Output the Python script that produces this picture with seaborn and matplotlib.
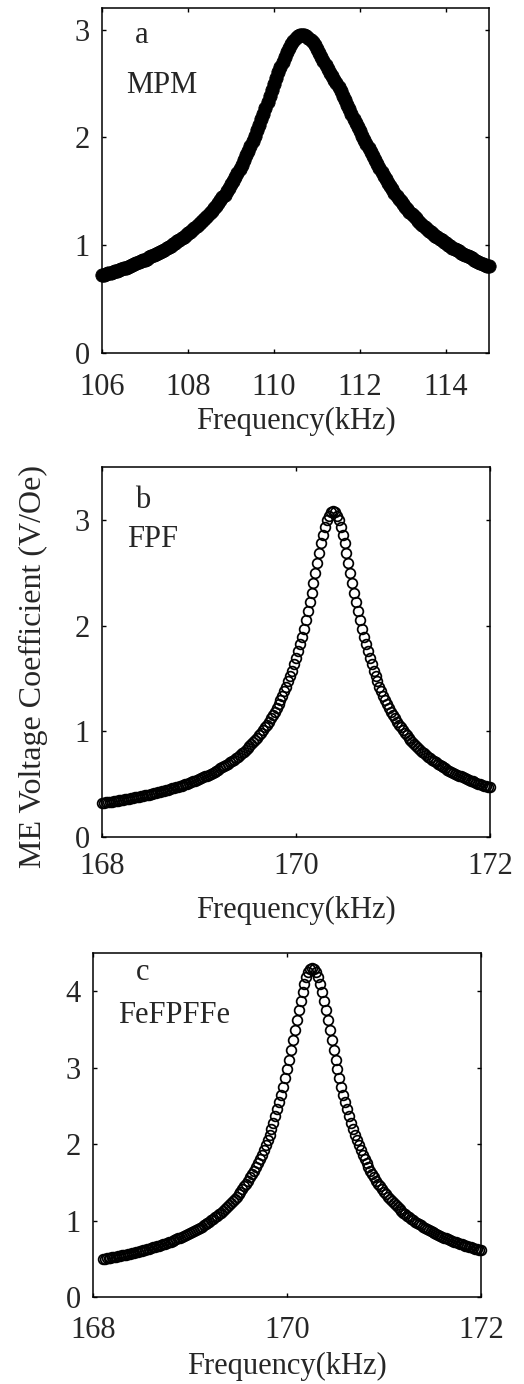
import numpy as np
import pandas as pd
import matplotlib
matplotlib.use("Agg")
import matplotlib.pyplot as plt
import seaborn as sns

# ---------------- data ----------------
# frequency sweeps (kHz): start, stop ; uniform sweep step
mpm_sweep = (106.0, 115.0)          # 0.05 kHz step
fpf_sweep = (168.0, 172.0)          # 0.02 kHz step
fefpffe_sweep = (168.1, 172.0)      # 0.02 kHz step

# ME voltage coefficient (V/Oe)
mpm_v = [
    0.720, 0.726, 0.732, 0.738, 0.745, 0.751, 0.758, 0.764, 0.771, 0.778,
    0.786, 0.793, 0.801, 0.808, 0.816, 0.824, 0.833, 0.841, 0.850, 0.858,
    0.867, 0.876, 0.886, 0.896, 0.906, 0.916, 0.927, 0.937, 0.949, 0.960,
    0.972, 0.984, 0.997, 1.009, 1.022, 1.035, 1.050, 1.064, 1.079, 1.093,
    1.109, 1.125, 1.142, 1.159, 1.177, 1.195, 1.214, 1.233, 1.254, 1.274,
    1.296, 1.318, 1.342, 1.365, 1.391, 1.416, 1.443, 1.470, 1.500, 1.529,
    1.563, 1.597, 1.634, 1.670, 1.709, 1.748, 1.790, 1.832, 1.877, 1.921,
    1.969, 2.016, 2.067, 2.117, 2.169, 2.221, 2.276, 2.330, 2.385, 2.440,
    2.495, 2.549, 2.602, 2.654, 2.703, 2.750, 2.792, 2.832, 2.866, 2.896,
    2.918, 2.936, 2.946, 2.950,
    2.947, 2.939, 2.925, 2.906, 2.882, 2.854, 2.822, 2.786, 2.747, 2.705,
    2.671, 2.636, 2.601, 2.567, 2.535, 2.502, 2.467, 2.431, 2.388, 2.345,
    2.302, 2.259, 2.217, 2.175, 2.134, 2.094, 2.055, 2.016, 1.978, 1.941,
    1.901, 1.861, 1.823, 1.786, 1.749, 1.713, 1.679, 1.645, 1.612, 1.579,
    1.548, 1.517, 1.487, 1.457, 1.431, 1.406, 1.382, 1.358, 1.335, 1.312,
    1.290, 1.269, 1.248, 1.228, 1.208, 1.189, 1.170, 1.152, 1.135, 1.119,
    1.103, 1.088, 1.073, 1.058, 1.044, 1.030, 1.017, 1.004, 0.991, 0.978,
    0.966, 0.954, 0.942, 0.931, 0.919, 0.908, 0.897, 0.887, 0.877, 0.867,
    0.857, 0.848, 0.838, 0.829, 0.820, 0.811, 0.803,
]

fpf_v = [
    0.322, 0.324, 0.327, 0.330, 0.333, 0.335, 0.338, 0.342, 0.345, 0.348,
    0.351, 0.354, 0.357, 0.361, 0.364, 0.367, 0.371, 0.375, 0.378, 0.382,
    0.386, 0.390, 0.394, 0.398, 0.402, 0.406, 0.410, 0.415, 0.419, 0.424,
    0.428, 0.433, 0.438, 0.443, 0.448, 0.453, 0.459, 0.464, 0.470, 0.476,
    0.481, 0.487, 0.493, 0.500, 0.506, 0.513, 0.520, 0.527, 0.534, 0.541,
    0.549, 0.557, 0.565, 0.573, 0.581, 0.590, 0.599, 0.608, 0.618, 0.628,
    0.638, 0.648, 0.659, 0.670, 0.682, 0.694, 0.706, 0.720, 0.733, 0.747,
    0.761, 0.776, 0.792, 0.808, 0.824, 0.842, 0.860, 0.879, 0.898, 0.919,
    0.940, 0.963, 0.986, 1.010, 1.036, 1.063, 1.091, 1.121, 1.152, 1.185,
    1.219, 1.256, 1.294, 1.335, 1.377, 1.423, 1.471, 1.522, 1.575, 1.632,
    1.693, 1.757, 1.825, 1.896, 1.972, 2.051, 2.135, 2.222, 2.312, 2.405,
    2.499, 2.594, 2.687, 2.777, 2.860, 2.933, 2.995, 3.041, 3.070,
    3.080,
    3.070, 3.041, 2.995, 2.933, 2.860, 2.777, 2.687, 2.594, 2.499, 2.405,
    2.312, 2.222, 2.135, 2.051, 1.972, 1.896, 1.825, 1.757, 1.693, 1.632,
    1.575, 1.522, 1.471, 1.423, 1.377, 1.335, 1.294, 1.256, 1.219, 1.185,
    1.152, 1.121, 1.091, 1.063, 1.036, 1.010, 0.986, 0.963, 0.940, 0.919,
    0.898, 0.879, 0.860, 0.842, 0.824, 0.808, 0.792, 0.776, 0.761, 0.747,
    0.733, 0.720, 0.706, 0.694, 0.682, 0.670, 0.659, 0.648, 0.638, 0.628,
    0.618, 0.608, 0.599, 0.590, 0.581, 0.573, 0.565, 0.557, 0.549, 0.541,
    0.534, 0.527, 0.520, 0.513, 0.506, 0.500, 0.493, 0.487, 0.481, 0.476,
    0.470,
]

fefpffe_v = [
    0.494, 0.499, 0.504, 0.508, 0.513, 0.518, 0.523, 0.528, 0.533, 0.539,
    0.544, 0.550, 0.555, 0.561, 0.567, 0.573, 0.579, 0.585, 0.592, 0.598,
    0.605, 0.611, 0.618, 0.626, 0.633, 0.640, 0.648, 0.656, 0.664, 0.672,
    0.680, 0.689, 0.698, 0.707, 0.716, 0.725, 0.735, 0.746, 0.756, 0.766,
    0.777, 0.789, 0.800, 0.811, 0.824, 0.836, 0.849, 0.863, 0.876, 0.891,
    0.905, 0.920, 0.936, 0.952, 0.969, 0.986, 1.005, 1.024, 1.043, 1.063,
    1.084, 1.105, 1.127, 1.151, 1.175, 1.200, 1.227, 1.254, 1.283, 1.312,
    1.344, 1.376, 1.410, 1.446, 1.484, 1.523, 1.564, 1.608, 1.654, 1.702,
    1.753, 1.806, 1.863, 1.923, 1.986, 2.053, 2.124, 2.199, 2.279, 2.363,
    2.453, 2.547, 2.647, 2.753, 2.864, 2.980, 3.102, 3.228, 3.358, 3.489,
    3.622, 3.752, 3.876, 3.993, 4.095, 4.181, 4.246, 4.286,
    4.300,
    4.286, 4.246, 4.181, 4.095, 3.993, 3.876, 3.752, 3.622, 3.489, 3.358,
    3.228, 3.102, 2.980, 2.864, 2.753, 2.647, 2.547, 2.453, 2.363, 2.279,
    2.199, 2.124, 2.053, 1.986, 1.923, 1.863, 1.806, 1.753, 1.702, 1.654,
    1.608, 1.564, 1.523, 1.484, 1.446, 1.410, 1.376, 1.344, 1.312, 1.283,
    1.254, 1.227, 1.200, 1.175, 1.151, 1.127, 1.105, 1.084, 1.063, 1.043,
    1.024, 1.005, 0.986, 0.969, 0.952, 0.936, 0.920, 0.905, 0.891, 0.876,
    0.863, 0.849, 0.836, 0.824, 0.811, 0.800, 0.789, 0.777, 0.766, 0.756,
    0.746, 0.735, 0.725, 0.716, 0.707, 0.698, 0.689, 0.680, 0.672, 0.664,
    0.656, 0.648, 0.640, 0.633, 0.626, 0.618, 0.611,
]

panel_letters = ["a", "b", "c"]
panel_names = ["MPM", "FPF", "FeFPFFe"]
xticks_a = [106, 108, 110, 112, 114]
xticks_bc = [168, 170, 172]
yticks_ab = [0, 1, 2, 3]
yticks_c = [0, 1, 2, 3, 4]
x_label = "Frequency(kHz)"
y_label = "ME Voltage Coefficient (V/Oe)"

# ---------------- style ----------------
sns.set_style("ticks", {"xtick.direction": "in", "ytick.direction": "in"})
plt.rcParams["font.family"] = ["Liberation Serif", "DejaVu Serif"]

W, H = 524, 1384
fig = plt.figure(figsize=(W / 100, H / 100), dpi=100)


def px_axes(left, right, top, bottom):
    return [left / W, 1 - bottom / H, (right - left) / W, (bottom - top) / H]


panels = [
    dict(sweep=mpm_sweep, v=mpm_v, rect=px_axes(102, 489, 8, 353),
         xlim=(106, 115), ylim=(0, 3.2), xticks=xticks_a, yticks=yticks_ab,
         filled=True, xpad=14.4, xlab_y=-0.1565,
         letter_pos=(0.085, 0.899), name_pos=(0.062, 0.754)),
    dict(sweep=fpf_sweep, v=fpf_v, rect=px_axes(102, 490, 467, 837),
         xlim=(168, 172), ylim=(0, 3.5), xticks=xticks_bc, yticks=yticks_ab,
         filled=False, xpad=11.0, xlab_y=-0.1586,
         letter_pos=(0.085, 0.889), name_pos=(0.064, 0.784)),
    dict(sweep=fefpffe_sweep, v=fefpffe_v, rect=px_axes(93, 481, 953, 1297),
         xlim=(168, 172), ylim=(0, 4.5), xticks=xticks_bc, yticks=yticks_c,
         filled=False, xpad=13.9, xlab_y=-0.160,
         letter_pos=(0.111, 0.922), name_pos=(0.064, 0.797)),
]

FS = 22
for i, p in enumerate(panels):
    ax = fig.add_axes(p["rect"])
    freq = np.linspace(p["sweep"][0], p["sweep"][1], len(p["v"]))
    df = pd.DataFrame({"freq": freq, "v": p["v"]})
    if p["filled"]:
        mk = dict(ms=9.6, mfc="black", mec="black", mew=0.6)
    else:
        mk = dict(ms=7.0, mfc="none", mec="black", mew=1.25)
    sns.lineplot(data=df, x="freq", y="v", ax=ax, marker="o", linestyle="",
                 color="black", estimator=None, errorbar=None, legend=False,
                 clip_on=False, zorder=3, **mk)
    ax.set_xlim(*p["xlim"])
    ax.set_ylim(*p["ylim"])
    ax.set_xticks(p["xticks"])
    ax.set_yticks(p["yticks"])
    ax.set_xticklabels([str(t) for t in p["xticks"]])
    ax.set_yticklabels([str(t) for t in p["yticks"]])
    ax.tick_params(direction="in", top=True, right=True, length=3.2,
                   width=1.0, labelsize=FS, color="black")
    ax.tick_params(axis="x", pad=p["xpad"])
    ax.tick_params(axis="y", pad=8.6)
    for s in ax.spines.values():
        s.set_visible(True)
        s.set_linewidth(1.1)
        s.set_color("black")
    ax.set_xlabel(x_label, fontsize=FS)
    ax.xaxis.set_label_coords(0.5, p["xlab_y"])
    ax.set_ylabel("")
    ax.text(p["letter_pos"][0], p["letter_pos"][1], panel_letters[i],
            transform=ax.transAxes, fontsize=FS, va="baseline", ha="left")
    ax.text(p["name_pos"][0], p["name_pos"][1], panel_names[i],
            transform=ax.transAxes, fontsize=FS, va="baseline", ha="left")

fig.text(33 / W, 1 - 666 / H, y_label, rotation=90, ha="center", va="center",
         fontsize=23)

fig.savefig("out.png", dpi=100)
